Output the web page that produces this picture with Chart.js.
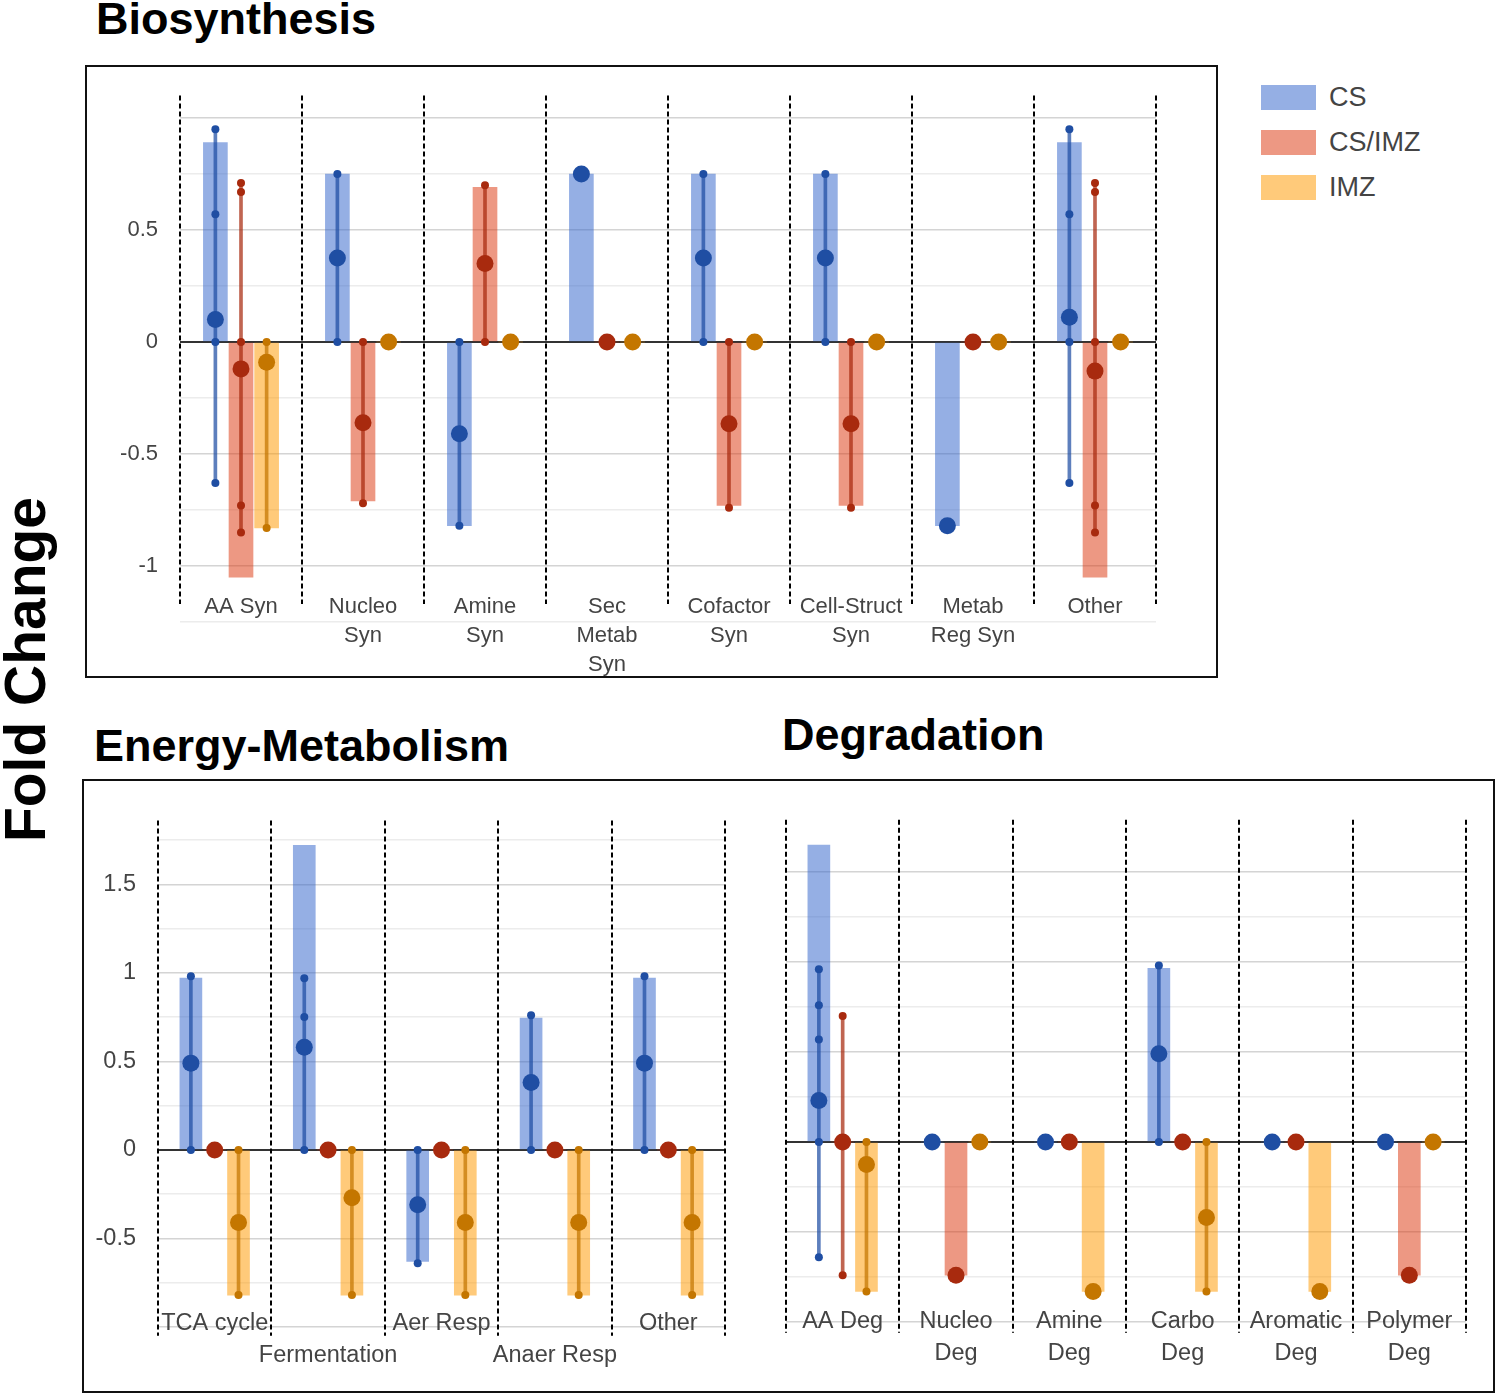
<!DOCTYPE html>
<html>
<head>
<meta charset="utf-8">
<script src="https://cdn.jsdelivr.net/npm/chart.js@4.4.1/dist/chart.umd.min.js"></script>
<style>
  body { margin: 0; background: #fff; width: 1497px; height: 1395px; position: relative; overflow: hidden; font-family: 'Liberation Sans', Arial, sans-serif; }
  .titre { position: absolute; font-weight: bold; font-size: 45px; line-height: 45px; color: #000; white-space: nowrap; }
  .cadre { position: absolute; border: 2px solid #111; box-sizing: border-box; }
  canvas { position: absolute; }
  #axeY { position: absolute; left: -175px; top: 641px; width: 400px; height: 57px; line-height: 57px; text-align: center; font-weight: bold; font-size: 57px; transform: rotate(-90deg); white-space: nowrap; }
  .item { position: absolute; left: 1261px; height: 25px; }
  .item span.carre { position: absolute; left: 0; top: 0; width: 55px; height: 25px; }
  .item span.texte { position: absolute; left: 68px; top: -2px; font-size: 27px; line-height: 29px; color: #444; white-space: nowrap; }
</style>
</head>
<body>
<div class="titre" style="left:96px; top:-4px;">Biosynthesis</div>
<div class="titre" style="left:94px; top:723px;">Energy-Metabolism</div>
<div class="titre" style="left:782px; top:712px;">Degradation</div>
<div id="axeY">Fold Change</div>

<div class="cadre" style="left:85px; top:65px; width:1133px; height:613px;"></div>
<div class="cadre" style="left:82px; top:779px; width:1413px; height:614px;"></div>

<canvas id="chartBio" style="left:87px; top:67px;" width="1129" height="609"></canvas>
<canvas id="chartEnergie" style="left:84px; top:781px;" width="676" height="610"></canvas>
<canvas id="chartDegradation" style="left:760px; top:781px;" width="733" height="610"></canvas>
<div id="legende"></div>

<script>
// ---- Séries ----
const series = ["CS", "CS/IMZ", "IMZ"];
const couleursBarres = ["rgba(51,102,204,0.52)", "rgba(220,57,18,0.52)", "rgba(255,153,0,0.52)"];
const couleursPoints = ["#1f4ea3", "#a82a0e", "#c47600"];
const couleursLignes = ["rgba(31,78,163,0.72)", "rgba(168,42,14,0.72)", "rgba(196,118,0,0.72)"];

// ---- Biosynthesis ----
const bioCategories = [["AA Syn"], ["Nucleo", "Syn"], ["Amine", "Syn"], ["Sec", "Metab", "Syn"],
  ["Cofactor", "Syn"], ["Cell-Struct", "Syn"], ["Metab", "Reg Syn"], ["Other"]];
const bioCsBarres = [0.89, 0.75, -0.82, 0.75, 0.75, 0.75, -0.82, 0.89];
const bioCsMoyennes = [0.10, 0.375, -0.41, 0.75, 0.375, 0.375, -0.82, 0.11];
const bioCsPoints = [[0.95, 0.57, 0, -0.63], [0.75, 0], [0, -0.82], [], [0.75, 0], [0.75, 0], [], [0.95, 0.57, 0, -0.63]];
const bioMixBarres = [-1.05, -0.71, 0.69, 0, -0.73, -0.73, 0, -1.05];
const bioMixMoyennes = [-0.12, -0.36, 0.35, 0, -0.365, -0.365, 0, -0.13];
const bioMixPoints = [[0.71, 0.67, 0, -0.73, -0.85], [0, -0.72], [0.70, 0], [], [0, -0.74], [0, -0.74], [], [0.71, 0.67, 0, -0.73, -0.85]];
const bioImzBarres = [-0.83, 0, 0, 0, 0, 0, 0, 0];
const bioImzMoyennes = [-0.09, 0, 0, 0, 0, 0, 0, 0];
const bioImzPoints = [[0, -0.83], [], [], [], [], [], [], []];

// ---- Energy-Metabolism ----
const enCategories = [["TCA cycle"], ["", "Fermentation"], ["Aer Resp"], ["", "Anaer Resp"], ["Other"]];
const enCsBarres = [0.97, 1.72, -0.63, 0.745, 0.97];
const enCsMoyennes = [0.49, 0.58, -0.31, 0.38, 0.49];
const enCsPoints = [[0.98, 0], [0.97, 0.75, 0], [0, -0.64], [0.76, 0], [0.98, 0]];
const enMixBarres = [0, 0, 0, 0, 0];
const enMixMoyennes = [0, 0, 0, 0, 0];
const enMixPoints = [[], [], [], [], []];
const enImzBarres = [-0.82, -0.82, -0.82, -0.82, -0.82];
const enImzMoyennes = [-0.41, -0.27, -0.41, -0.41, -0.41];
const enImzPoints = [[0, -0.82], [0, -0.82], [0, -0.82], [0, -0.82], [0, -0.82]];

// ---- Degradation ----
const degCategories = [["AA Deg"], ["Nucleo", "Deg"], ["Amine", "Deg"], ["Carbo", "Deg"], ["Aromatic", "Deg"], ["Polymer", "Deg"]];
const degCsBarres = [1.65, 0, 0, 0.965, 0, 0];
const degCsMoyennes = [0.23, 0, 0, 0.49, 0, 0];
const degCsPoints = [[0.96, 0.76, 0.57, 0, -0.64], [], [], [0.98, 0], [], []];
const degMixBarres = [0, -0.74, 0, 0, 0, -0.74];
const degMixMoyennes = [0, -0.74, 0, 0, 0, -0.74];
const degMixPoints = [[0.70, -0.74], [], [], [], [], []];
const degImzBarres = [-0.83, 0, -0.83, -0.83, -0.83, 0];
const degImzMoyennes = [-0.125, 0, -0.83, -0.42, -0.83, 0];
const degImzPoints = [[0, -0.83], [], [], [0, -0.83], [], []];

// décalage de chaque série dans sa catégorie
const DECALAGE = 0.21;

Chart.defaults.font.family = "'Liberation Sans', Arial, sans-serif";
Chart.defaults.color = "#444";

// ---- Lignes pointillées entre catégories ----
const separateurs = {
  id: "separateurs",
  afterDraw(chart, args, opts) {
    const { ctx, scales: { x, y } } = chart;
    ctx.save();
    ctx.setLineDash([5, 3]);
    ctx.lineWidth = 2;
    ctx.strokeStyle = "#000";
    for (let i = 0; i <= opts.nombre; i++) {
      const px = Math.round(x.getPixelForValue(i - 0.5));
      ctx.beginPath();
      ctx.moveTo(px, y.getPixelForValue(opts.haut));
      ctx.lineTo(px, y.getPixelForValue(opts.bas));
      ctx.stroke();
    }
    ctx.restore();
  }
};

function construireDatasets(barres, moyennes, points, epaisseur) {
  const out = [];
  for (let s = 0; s < 3; s++) {
    const dx = (s - 1) * DECALAGE;
    out.push({
      type: "scatter", label: series[s],
      data: moyennes[s].map((v, i) => ({ x: i + dx, y: v })),
      pointRadius: 8.5, backgroundColor: couleursPoints[s], borderWidth: 0, order: 0
    });
    const pts = [];
    points[s].forEach((liste, i) => liste.forEach(v => pts.push({ x: i + dx, y: v })));
    out.push({
      type: "scatter", label: series[s] + " valeurs",
      data: pts, pointRadius: 4, backgroundColor: couleursPoints[s], borderWidth: 0, order: 1
    });
    const plages = [];
    points[s].forEach((liste, i) => {
      if (liste.length > 1) plages.push({ x: i + dx, y: [Math.min(...liste), Math.max(...liste)] });
    });
    out.push({
      type: "bar", label: series[s] + " plage",
      data: plages, grouped: false, barThickness: 3, backgroundColor: couleursLignes[s], borderWidth: 0, order: 2
    });
    out.push({
      type: "bar", label: series[s] + " barre",
      data: barres[s].map((v, i) => ({ x: i + dx, y: v })),
      grouped: false, barThickness: epaisseur, backgroundColor: couleursBarres[s], borderWidth: 0, order: 3
    });
  }
  return out;
}

function creerGraphique(id, p) {
  const n = p.categories.length;
  // avec mirror, la 1re ligne est centrée à top - padding - interligne/2
  const padEtiquettes = -p.decalEtiquettes - p.police * p.interligne / 2;
  new Chart(document.getElementById(id), {
    type: "bar",
    data: { datasets: construireDatasets(p.barres, p.moyennes, p.points, p.epaisseur) },
    options: {
      responsive: false,
      animation: false,
      layout: { padding: { top: p.padHaut, right: p.padDroite, left: 0, bottom: 0 } },
      plugins: {
        legend: { display: false },
        tooltip: { enabled: false },
        separateurs: { nombre: n, haut: p.tiretsHaut, bas: p.tiretsBas }
      },
      scales: {
        x: {
          type: "linear", min: -0.5, max: n - 0.5, offset: false,
          afterBuildTicks: s => { s.ticks = p.categories.map((c, i) => ({ value: i })); },
          afterFit: s => { s.height = p.hauteurX; },
          grid: { display: false },
          border: { display: false },
          ticks: {
            // mirror : les étiquettes ne sont pas coupées à la boîte de l'axe
            mirror: true,
            autoSkip: false, maxRotation: 0, minRotation: 0,
            padding: padEtiquettes, color: "#444",
            font: { size: p.police, lineHeight: p.interligne },
            callback: v => p.categories[v] || ""
          }
        },
        y: {
          min: p.min, max: p.max,
          afterFit: s => { s.width = p.largeurY; },
          border: { display: false },
          grid: {
            drawTicks: false,
            color: c => c.tick.value === 0 ? "#333" : (Math.abs(c.tick.value * 2 - Math.round(c.tick.value * 2)) < 1e-6 ? "#d4d4d4" : "#ececec"),
            lineWidth: c => c.tick.value === 0 ? 2 : 1.5
          },
          ticks: {
            display: p.etiquettesY,
            stepSize: 0.25, includeBounds: false, autoSkip: false, padding: 22, color: "#444",
            font: { size: p.police },
            callback: v => {
              const major = Math.abs(v * 2 - Math.round(v * 2)) < 1e-6;
              return major && v >= p.labelMin && v <= p.labelMax ? String(v) : "";
            }
          }
        }
      }
    },
    plugins: [separateurs]
  });
}

// ---- Légende ----
function afficherLegende() {
  const conteneur = document.getElementById("legende");
  series.forEach((nom, i) => {
    conteneur.innerHTML += `
      <div class="item" style="top:${85 + i * 45}px">
        <span class="carre" style="background:${couleursBarres[i]}"></span>
        <span class="texte">${nom}</span>
      </div>`;
  });
}

// ---- Initialisation ----
window.onload = () => {
  creerGraphique("chartBio", {
    categories: bioCategories,
    barres: [bioCsBarres, bioMixBarres, bioImzBarres],
    moyennes: [bioCsMoyennes, bioMixMoyennes, bioImzMoyennes],
    points: [bioCsPoints, bioMixPoints, bioImzPoints],
    epaisseur: 24, min: -1.25, max: 1.0, labelMin: -1, labelMax: 0.5,
    padHaut: 51, padDroite: 60, hauteurX: 54, largeurY: 93,
    police: 22, interligne: 1.32, decalEtiquettes: -15, etiquettesY: true,
    tiretsHaut: 1.10, tiretsBas: -1.17
  });
  creerGraphique("chartEnergie", {
    categories: enCategories,
    barres: [enCsBarres, enMixBarres, enImzBarres],
    moyennes: [enCsMoyennes, enMixMoyennes, enImzMoyennes],
    points: [enCsPoints, enMixPoints, enImzPoints],
    epaisseur: 22, min: -1, max: 1.75, labelMin: -0.5, labelMax: 1.5,
    padHaut: 59, padDroite: 35, hauteurX: 64, largeurY: 74,
    police: 23.5, interligne: 1.32, decalEtiquettes: -3, etiquettesY: true,
    tiretsHaut: 1.86, tiretsBas: -1.05
  });
  creerGraphique("chartDegradation", {
    categories: degCategories,
    barres: [degCsBarres, degMixBarres, degImzBarres],
    moyennes: [degCsMoyennes, degMixMoyennes, degImzMoyennes],
    points: [degCsPoints, degMixPoints, degImzPoints],
    epaisseur: 22, min: -1, max: 1.7, labelMin: 9, labelMax: 9,
    padHaut: 55, padDroite: 27, hauteurX: 69, largeurY: 26,
    police: 23.5, interligne: 1.32, decalEtiquettes: 0, etiquettesY: false,
    tiretsHaut: 1.79, tiretsBas: -1.06
  });
  afficherLegende();
};
</script>
</body>
</html>
